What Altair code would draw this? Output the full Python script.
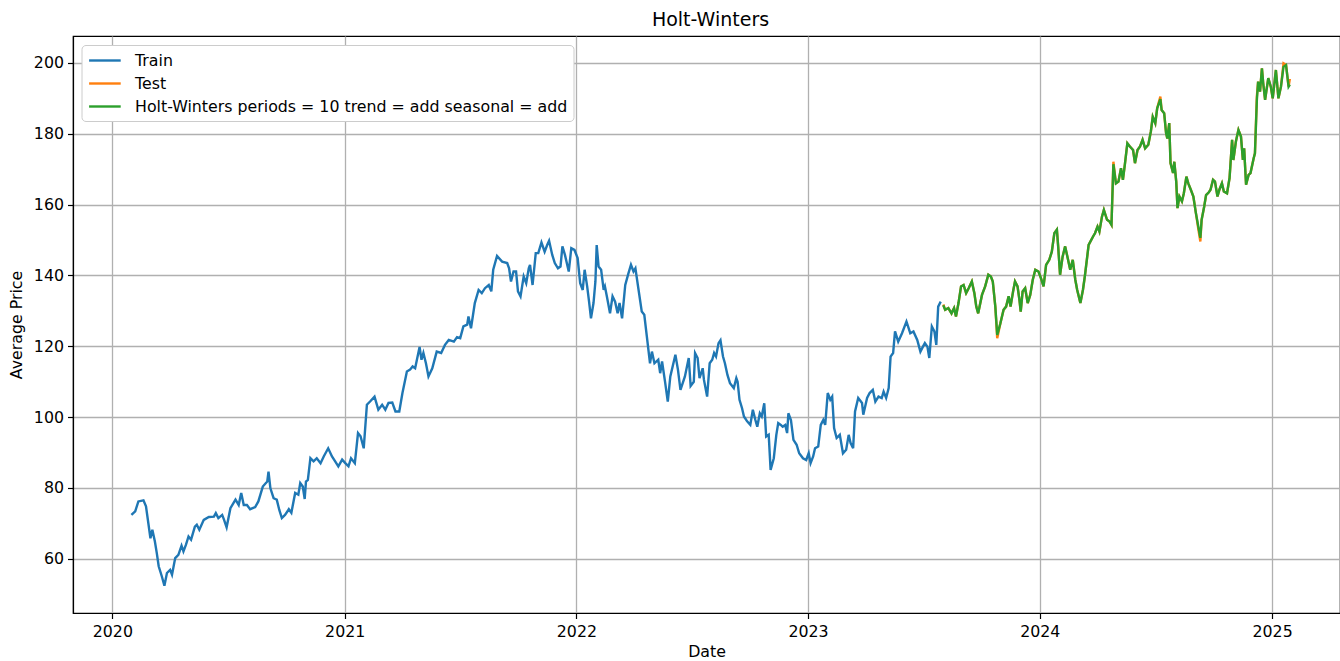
import altair as alt
import pandas as pd

start_date = "2020-01-01"

train_days = [
    30, 36, 41, 49, 53, 60, 63, 67, 70, 73,
    78, 82, 86, 91, 94, 99, 104, 109, 112, 116,
    120, 124, 130, 133, 137, 144, 152, 160, 163, 167,
    173, 176, 180, 186, 194, 199, 203, 207, 212, 217,
    225, 230, 237, 244, 246, 249, 254, 259, 263, 267,
    272, 278, 282, 288, 293, 296, 300, 303, 305, 308,
    312, 317, 322, 328, 333, 340, 346, 351, 356, 362,
    367, 372, 376, 382, 387, 391, 396, 401, 406, 413,
    419, 425, 430, 435, 441, 446, 452, 457, 464, 469,
    473, 477, 484, 487, 490, 494, 498, 504, 511, 518,
    524, 530, 538, 543, 548, 553, 559, 561, 565, 571,
    577, 582, 587, 593, 597, 600, 606, 614, 622, 625,
    628, 632, 636, 639, 643, 648, 652, 656, 658, 662,
    667, 671, 676, 681, 685, 688, 693, 697, 702, 706,
    709, 713, 719, 723, 728, 733, 737, 741, 744, 748,
    751, 754, 758, 761, 763, 766, 770, 774, 776, 779,
    784, 788, 792, 796, 799, 803, 808, 813, 817, 821,
    824, 829, 834, 838, 842, 847, 850, 854, 860, 863,
    866, 871, 875, 879, 887, 891, 895, 902, 908, 911,
    916, 918, 922, 925, 930, 932, 937, 941, 945, 948,
    951, 955, 958, 962, 965, 969, 973, 979, 983, 985,
    988, 992, 995, 1000, 1005, 1009, 1013, 1016, 1020, 1023,
    1027, 1030, 1034, 1037, 1042, 1046, 1049, 1053, 1056, 1060,
    1063, 1065, 1069, 1073, 1078, 1082, 1088, 1093, 1097, 1100,
    1104, 1107, 1112, 1116, 1120, 1123, 1127, 1131, 1134, 1137,
    1141, 1146, 1151, 1156, 1160, 1163, 1167, 1170, 1175, 1181,
    1183, 1189, 1193, 1198, 1202, 1207, 1212, 1215, 1219, 1223,
    1226, 1230, 1233, 1238, 1244, 1251, 1257, 1262, 1268, 1273,
    1277, 1280, 1284, 1287, 1291, 1295, 1298, 1301, 1305,
]
train_values = [
    72.4, 73.4, 76.2, 76.5, 74.8, 65.8, 68.2, 64.9, 61.6, 57.9,
    55.0, 52.4, 56.0, 56.9, 55.5, 60.2, 61.1, 63.7, 62.1, 64.0,
    66.3, 65.4, 69.1, 69.6, 68.2, 71.0, 71.8, 71.9, 72.9, 71.5,
    72.4, 71.0, 68.9, 74.3, 76.7, 75.2, 78.6, 75.2, 75.2, 74.0,
    74.6, 76.2, 80.4, 81.8, 84.6, 79.9, 77.1, 76.7, 73.8, 71.5,
    72.4, 74.0, 73.0, 78.6, 78.1, 81.4, 80.4, 76.9, 81.8, 82.3,
    88.4, 87.5, 88.4, 87.0, 88.9, 91.2, 88.9, 87.5, 86.1, 88.0,
    87.0, 86.1, 88.4, 87.0, 95.5, 94.6, 91.2, 103.5, 104.4, 105.8,
    102.1, 103.5, 102.1, 104.0, 104.1, 101.6, 101.6, 106.8, 112.9, 113.4,
    114.3, 113.8, 119.8, 116.2, 118.1, 115.2, 111.5, 113.8, 118.5, 118.1,
    120.4, 121.8, 121.3, 122.6, 122.3, 125.6, 126.1, 128.4, 125.1, 132.2,
    135.9, 135.0, 136.4, 137.3, 135.5, 141.6, 145.5, 143.9, 143.5, 142.0,
    138.3, 141.1, 141.1, 135.5, 134.1, 139.7, 137.8, 142.0, 143.0, 137.3,
    146.3, 146.3, 149.3, 146.7, 148.6, 149.8, 145.8, 143.5, 142.0, 142.5,
    148.2, 145.8, 141.1, 147.7, 147.2, 144.9, 137.8, 135.9, 141.6, 136.9,
    132.6, 127.9, 132.2, 138.3, 148.6, 142.5, 141.6, 135.9, 136.9, 134.1,
    129.3, 134.1, 132.6, 129.3, 132.2, 127.9, 137.3, 140.6, 143.0, 141.1,
    142.0, 135.9, 129.8, 128.9, 122.8, 115.2, 118.5, 115.2, 116.2, 112.4,
    115.7, 109.6, 104.4, 111.5, 117.6, 113.4, 107.7, 111.5, 116.7, 108.8,
    110.0, 118.1, 116.7, 111.0, 113.8, 110.5, 105.8, 115.2, 116.2, 118.1,
    117.1, 120.9, 121.7, 117.1, 115.2, 111.9, 109.6, 108.2, 111.0, 110.0,
    104.9, 102.5, 100.2, 98.8, 97.8, 102.1, 99.2, 97.3, 101.1, 100.2,
    103.9, 94.5, 95.0, 85.1, 88.4, 95.0, 98.3, 97.8, 97.3, 97.8,
    95.5, 101.1, 99.2, 93.6, 92.2, 89.8, 88.4, 87.9, 89.8, 87.0,
    88.9, 91.2, 91.7, 97.8, 99.2, 97.8, 106.8, 104.9, 105.8, 96.9,
    94.1, 95.0, 89.8, 90.8, 95.0, 92.7, 91.2, 101.6, 105.4, 104.0,
    100.7, 105.4, 106.8, 107.7, 104.4, 105.8, 105.4, 107.2, 105.4, 108.2,
    117.1, 118.1, 124.2, 121.3, 123.7, 127.0, 123.7, 124.2, 121.8, 118.5,
    119.9, 120.9, 119.9, 116.7, 125.6, 124.2, 120.4, 131.2, 132.6,
]

test_days = [
    1309, 1312, 1317, 1322, 1326, 1329, 1333, 1337, 1341, 1345,
    1349, 1354, 1358, 1361, 1364, 1370, 1375, 1380, 1384, 1387,
    1391, 1394, 1399, 1404, 1408, 1412, 1415, 1419, 1422, 1426,
    1429, 1431, 1434, 1438, 1442, 1446, 1450, 1454, 1459, 1463,
    1467, 1471, 1476, 1480, 1484, 1488, 1490, 1493, 1497, 1501,
    1505, 1509, 1513, 1517, 1520, 1525, 1529, 1532, 1538, 1545,
    1548, 1552, 1555, 1559, 1562, 1567, 1571, 1574, 1577, 1581,
    1585, 1589, 1592, 1595, 1599, 1603, 1608, 1611, 1615, 1619,
    1623, 1627, 1632, 1636, 1639, 1643, 1646, 1651, 1653, 1657,
    1660, 1662, 1665, 1667, 1671, 1673, 1676, 1678, 1681, 1685,
    1688, 1692, 1695, 1699, 1703, 1707, 1711, 1714, 1716, 1720,
    1723, 1727, 1730, 1734, 1737, 1741, 1744, 1748, 1751, 1756,
    1760, 1764, 1766, 1770, 1774, 1778, 1781, 1783, 1786, 1790,
    1793, 1798, 1800, 1803, 1805, 1808, 1811, 1813, 1816, 1821,
    1825, 1828, 1833, 1837, 1841, 1845, 1849, 1853, 1855,
]
test_values = [
    131.8, 130.3, 130.8, 129.3, 130.8, 128.4, 132.2, 136.9, 137.3, 135.0,
    136.4, 138.3, 135.0, 131.2, 129.3, 134.5, 136.9, 140.2, 139.7, 138.3,
    131.2, 122.3, 126.5, 130.3, 131.2, 134.1, 131.2, 135.5, 138.3, 136.9,
    133.1, 129.8, 135.5, 136.4, 132.2, 134.5, 138.8, 141.6, 141.1, 139.2,
    136.9, 143.0, 144.4, 146.7, 151.9, 152.9, 148.2, 140.2, 145.3, 148.2,
    144.9, 141.6, 144.4, 138.8, 135.9, 132.2, 135.9, 139.7, 148.6, 151.0,
    151.9, 153.8, 152.4, 156.6, 158.5, 155.7, 155.2, 154.3, 172.1, 166.0,
    166.5, 170.3, 167.0, 171.2, 177.3, 176.4, 175.4, 171.7, 175.4, 176.4,
    178.3, 175.9, 176.9, 180.6, 184.8, 183.0, 187.2, 190.5, 186.7, 185.8,
    180.2, 178.7, 183.0, 171.7, 168.9, 172.1, 166.5, 159.0, 162.3, 160.9,
    163.2, 167.9, 166.0, 164.2, 162.3, 157.6, 152.9, 149.6, 155.7, 159.4,
    162.7, 163.4, 164.2, 167.0, 166.5, 162.3, 164.2, 166.0, 163.7, 163.2,
    167.5, 178.3, 172.6, 177.8, 181.1, 179.2, 172.6, 175.9, 165.6, 168.4,
    168.9, 173.1, 174.5, 190.5, 194.7, 191.9, 198.5, 194.3, 189.6, 195.7,
    193.3, 190.0, 198.0, 190.0, 193.3, 199.9, 199.4, 193.3, 195.5,
]
hw_values = [
    131.6, 130.3, 130.8, 129.3, 130.8, 128.4, 132.2, 136.9, 137.3, 135.0,
    136.4, 138.3, 135.0, 131.2, 129.3, 134.5, 136.9, 140.2, 139.7, 138.3,
    131.2, 123.2, 126.5, 130.3, 131.2, 134.1, 131.2, 135.5, 138.3, 136.9,
    133.1, 129.8, 135.5, 136.4, 132.2, 134.5, 138.8, 141.6, 141.1, 139.2,
    136.9, 143.0, 144.4, 146.7, 151.9, 152.9, 148.2, 140.2, 145.3, 148.2,
    144.9, 141.6, 144.4, 138.8, 135.9, 132.2, 135.9, 139.7, 148.6, 151.0,
    151.9, 153.8, 152.4, 156.6, 158.5, 155.7, 155.2, 154.3, 171.4, 166.0,
    166.5, 170.3, 167.0, 171.2, 177.3, 176.4, 175.4, 171.7, 175.4, 176.4,
    178.3, 175.9, 176.9, 180.6, 184.8, 183.0, 187.2, 189.8, 186.7, 185.8,
    180.2, 178.7, 183.0, 171.7, 168.9, 172.1, 166.5, 159.0, 162.3, 160.9,
    163.2, 167.9, 166.0, 164.2, 162.3, 157.6, 153.6, 150.6, 155.7, 159.4,
    162.7, 163.4, 164.2, 167.0, 166.5, 162.3, 164.2, 166.0, 163.7, 163.2,
    167.5, 178.3, 172.6, 177.8, 181.1, 179.2, 172.6, 175.9, 165.6, 168.4,
    168.9, 173.1, 174.5, 189.4, 194.7, 191.9, 198.5, 194.3, 189.6, 195.7,
    193.3, 190.0, 198.0, 190.0, 193.3, 198.9, 199.4, 193.3, 193.9,
]

series_names = ["Train", "Test", "Holt-Winters periods = 10 trend = add seasonal = add"]
series_colors = ["#1f77b4", "#ff7f0e", "#2ca02c"]
year_ticks = [2020, 2021, 2022, 2023, 2024, 2025]
y_ticks = [60, 80, 100, 120, 140, 160, 180, 200]

FONT = "DejaVu Sans"
base_date = pd.Timestamp(start_date)


def make_frame(days, values, name):
    return pd.DataFrame({
        "Date": base_date + pd.to_timedelta(days, unit="D"),
        "Average Price": values,
        "series": name,
    })


train_df = make_frame(train_days, train_values, series_names[0])
test_df = make_frame(test_days, test_values, series_names[1])
hw_df = make_frame(test_days, hw_values, series_names[2])

x_enc = alt.X(
    "Date:T",
    scale=alt.Scale(domain=[alt.DateTime(year=2019, month=10, date=31),
                            alt.DateTime(year=2025, month=4, date=18)], nice=False),
    axis=alt.Axis(
        title="Date",
        values=[alt.DateTime(year=y, month=1, date=1) for y in year_ticks],
        format="%Y", formatType="time",
        labelOverlap=False, labelFlush=False,
        labelPadding=6, titlePadding=5,
    ),
)
y_enc = alt.Y(
    "Average Price:Q",
    scale=alt.Scale(domain=[44.7, 207.6], nice=False, zero=False),
    axis=alt.Axis(title="Average Price", values=y_ticks, titlePadding=9),
)
# line-shaped legend handle: spans from the entry's left edge to 4 half-sizes right
legend = alt.Legend(
    title=None, orient="none", legendX=8.5, legendY=9,
    symbolType="M-1,0H3", symbolSize=250, symbolStrokeWidth=2.4,
    symbolFillColor="transparent",
    labelFontSize=15.8, labelFont=FONT, labelColor="black", labelLimit=1000,
    labelOffset=28.5, rowPadding=5, padding=6,
    fillColor="white", strokeColor="#cccccc", cornerRadius=4,
)
color_enc = alt.Color(
    "series:N",
    scale=alt.Scale(domain=series_names, range=series_colors),
    legend=legend,
)


def line_layer(df):
    return alt.Chart(df).mark_line(strokeWidth=2.4, clip=True).encode(
        x=x_enc, y=y_enc, color=color_enc
    )


chart = alt.layer(line_layer(train_df), line_layer(test_df), line_layer(hw_df)).properties(
    width=1267,
    height=577,
    title=alt.TitleParams("Holt-Winters", font=FONT, fontSize=19, fontWeight="normal",
                          color="black", offset=6, anchor="middle", dx=4),
    padding={"left": 73, "top": 36, "right": 0, "bottom": 48},
    autosize=alt.AutoSizeParams(type="none"),
    background="white",
).configure_view(
    stroke="black", strokeWidth=1.2
).configure_axis(
    labelFont=FONT, titleFont=FONT, labelFontSize=15.8, titleFontSize=15.8,
    titleFontWeight="normal", labelColor="black", titleColor="black",
    domainColor="black", domainWidth=1.2, tickColor="black", tickWidth=1.2,
    tickSize=5.5, labelPadding=4, grid=True, gridColor="#b0b0b0", gridWidth=1.3,
)

chart.save("out.html", embed_options={"renderer": "svg", "actions": False})
